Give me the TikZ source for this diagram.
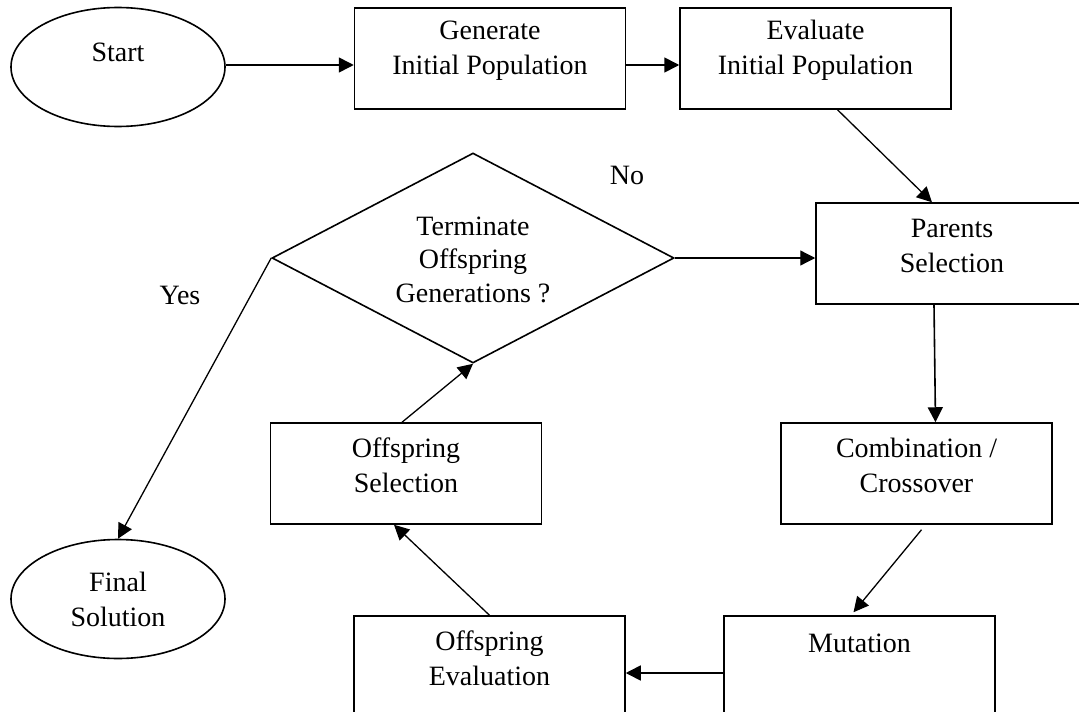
\documentclass[tikz,border=0pt]{standalone}
\usepackage{fontspec}
\setmainfont{Liberation Serif}
\usetikzlibrary{shapes.geometric,arrows.meta}
\begin{document}
\begin{tikzpicture}[x=1pt,y=-1pt,
  box/.style={draw,line width=1.5pt,minimum width=271pt,minimum height=101pt,inner sep=0pt},
  oval/.style={draw,ellipse,line width=1.6pt,inner sep=0pt,minimum width=214pt,minimum height=119pt},
  decision/.style={draw,diamond,aspect=1.914,line width=1.6pt,inner sep=0pt,minimum width=402pt,minimum height=210pt},
  lbl/.style={font=\fontsize{28}{35}\selectfont,align=center,inner sep=0pt},
  arr/.style={line width=1.3pt,-{Triangle[length=15pt,width=15pt]}}]
\useasboundingbox (0,0) rectangle (1079,712);
\clip (0,0) rectangle (1079,712);

% shapes
\node[oval] (start) at (118,67) {};
\node[box] (gen) at (490,58.5) {};
\node[box] (eval) at (815.5,58.5) {};
\node[box,minimum width=272pt] (par) at (952,253.5) {};
\node[decision] (dia) at (473,258) {};
\node[box] (offs) at (406,473.5) {};
\node[box] (comb) at (916.5,473.5) {};
\node[box] (mut) at (859.5,666.5) {};
\node[box] (offe) at (489.5,666.5) {};
\node[oval] (fin) at (118,599) {};

% texts
\node[lbl] (tstart) at ([yshift=15pt]start.center) {Start};
\node[lbl] (tgen) at ([yshift=8pt]gen.center) {Generate\\Initial Population};
\node[lbl] (teval) at ([yshift=8pt]eval.center) {Evaluate\\Initial Population};
\node[lbl] (tpar) at ([yshift=8pt]par.center) {Parents\\Selection};
\node[lbl,font=\fontsize{28}{33.5}\selectfont] (tdia) at (473,259.5) {Terminate\\Offspring\\Generations ?};
\node[lbl] (toffs) at ([yshift=8pt]offs.center) {Offspring\\Selection};
\node[lbl] (tcomb) at ([yshift=8pt]comb.center) {Combination /\\Crossover};
\node[lbl] (tmut) at ([yshift=23.5pt]mut.center) {Mutation};
\node[lbl] (toffe) at ([yshift=8pt]offe.center) {Offspring\\Evaluation};
\node[lbl] (tfin) at (fin.center) {Final\\Solution};
\node[lbl] (no) at (627,175) {No};
\node[lbl] (yes) at (180,295) {Yes};

% connectors
\draw[arr,line width=1.6pt] ([yshift=2pt]start.east) -- ([yshift=2pt]start.east -| gen.west);
\draw[arr,line width=1.6pt] ([yshift=-6.5pt]gen.east) -- ([yshift=-6.5pt]eval.west);
\draw[arr] ([xshift=22pt]eval.south) -- ([xshift=-20pt]par.north);
\draw[arr] (dia.east) -- (dia.east -| par.west);
\draw[arr,line width=1.6pt] ([xshift=-18pt]par.south) -- ([xshift=19pt]comb.north);
\draw[arr] ([xshift=5pt,yshift=-5pt]comb.south) -- ([xshift=-6pt,yshift=3pt]mut.north);
\draw[arr,line width=1.6pt] ([yshift=-6.5pt]mut.west) -- ([yshift=-6.5pt]offe.east);
\draw[arr] (offe.north) -- ([xshift=-12pt]offs.south);
\draw[arr] ([xshift=-4pt]offs.north) -- (dia.south);
\draw[arr] (dia.west) -- (fin.north);
\end{tikzpicture}
\end{document}
